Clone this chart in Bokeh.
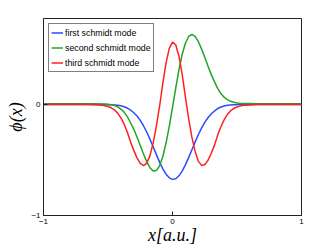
from bokeh.plotting import figure
from bokeh.models import FixedTicker, Range1d
from bokeh.embed import file_html
from bokeh.resources import INLINE

# ---- data ----
x_vals = [-1.0, -0.85, -0.7, -0.65, -0.6,
          -0.55, -0.525, -0.5, -0.475, -0.45, -0.425, -0.4, -0.375, -0.35, -0.325,
          -0.3, -0.275, -0.25, -0.225, -0.2, -0.175, -0.15, -0.125, -0.1, -0.075,
          -0.05, -0.025, 0.0, 0.025, 0.05, 0.075, 0.1, 0.125, 0.15, 0.175,
          0.2, 0.225, 0.25, 0.275, 0.3, 0.325, 0.35, 0.375, 0.4, 0.425,
          0.45, 0.475, 0.5, 0.525, 0.55,
          0.6, 0.65, 0.7, 0.85, 1.0]

first_mode = [-0.004, -0.004, -0.004, -0.004, -0.004,
              -0.005, -0.005, -0.006, -0.006, -0.008, -0.011, -0.016, -0.024, -0.036, -0.054,
              -0.078, -0.108, -0.147, -0.195, -0.251, -0.315, -0.383, -0.454, -0.521, -0.581,
              -0.629, -0.662, -0.676, -0.670, -0.644, -0.602, -0.546, -0.481, -0.412, -0.342,
              -0.276, -0.217, -0.165, -0.123, -0.089, -0.063, -0.042, -0.027, -0.018, -0.012,
              -0.009, -0.007, -0.006, -0.005, -0.005,
              -0.004, -0.004, -0.004, -0.004, -0.004]

second_mode = [0.003, 0.003, 0.003, 0.003, 0.002,
               0.001, 0.000, -0.003, -0.007, -0.014, -0.026, -0.045, -0.073, -0.113, -0.168,
               -0.227, -0.296, -0.372, -0.448, -0.517, -0.571, -0.601, -0.597, -0.554, -0.471,
               -0.350, -0.200, -0.031, 0.143, 0.306, 0.444, 0.545, 0.606, 0.625, 0.607,
               0.561, 0.495, 0.419, 0.340, 0.266, 0.201, 0.140, 0.094, 0.061, 0.039,
               0.024, 0.015, 0.010, 0.007, 0.005,
               0.004, 0.003, 0.003, 0.003, 0.003]

third_mode = [-0.004, -0.004, -0.004, -0.005, -0.007,
              -0.010, -0.015, -0.022, -0.034, -0.053, -0.082, -0.124, -0.181, -0.253, -0.340,
              -0.416, -0.483, -0.533, -0.553, -0.532, -0.465, -0.351, -0.198, -0.020, 0.187,
              0.369, 0.499, 0.555, 0.531, 0.429, 0.265, 0.064, -0.130, -0.295, -0.425,
              -0.512, -0.550, -0.545, -0.506, -0.444, -0.371, -0.281, -0.204, -0.142, -0.095,
              -0.062, -0.040, -0.026, -0.017, -0.012,
              -0.008, -0.005, -0.004, -0.004, -0.004]

series_names = ["first schmidt mode", "second schmidt mode", "third schmidt mode"]
series_colors = ["#2a4bff", "#22a522", "#ff2020"]
x_ticks = [-1, 0, 1]
y_ticks = [-1, 0]
x_label = "x[a.u.]"
y_label = "\u03d5(x)"

# ---- figure ----
p = figure(width=332, height=248, output_backend="svg", toolbar_location=None,
           x_range=Range1d(-1, 1), y_range=Range1d(-1, 0.767),
           min_border_left=43, min_border_right=31, min_border_top=18, min_border_bottom=33,
           x_axis_label=x_label, y_axis_label=y_label)
p.xgrid.visible = False
p.ygrid.visible = False
p.outline_line_color = "#222222"
p.outline_line_width = 1
p.background_fill_color = "white"
p.border_fill_color = "white"

for ys, name, col in zip([first_mode, second_mode, third_mode], series_names, series_colors):
    p.line(x_vals, ys, line_color=col, line_width=1.5, legend_label=name)

axis_col = "#222222"


def style_axis(ax, ticks):
    ax.ticker = FixedTicker(ticks=ticks)
    ax.axis_line_color = axis_col
    ax.axis_line_width = 1
    ax.major_tick_line_color = axis_col
    ax.major_tick_in = 4
    ax.major_tick_out = 0
    ax.minor_tick_line_color = None
    ax.major_label_text_font = "Liberation Sans"
    ax.major_label_text_font_size = "8px"
    ax.major_label_text_color = "black"
    ax.major_label_standoff = 3
    ax.axis_label_text_font = "Liberation Serif"
    ax.axis_label_text_font_style = "italic"
    ax.axis_label_text_font_size = "18px"
    ax.axis_label_text_color = "black"


style_axis(p.xaxis[0], x_ticks)
style_axis(p.yaxis[0], y_ticks)
p.xaxis[0].axis_label_standoff = -2
p.yaxis[0].axis_label_standoff = 2

lg = p.legend[0]
lg.location = "top_left"
lg.margin = 5
lg.padding = 2
lg.spacing = 2
lg.border_line_color = "black"
lg.border_line_width = 1
lg.background_fill_color = "white"
lg.background_fill_alpha = 1
lg.label_text_font = "Liberation Sans"
lg.label_text_font_size = "8.8px"
lg.label_text_color = "black"
lg.glyph_width = 12
lg.glyph_height = 13
lg.label_height = 13
lg.label_standoff = 2

open("out.html", "w").write(file_html(p, INLINE))
